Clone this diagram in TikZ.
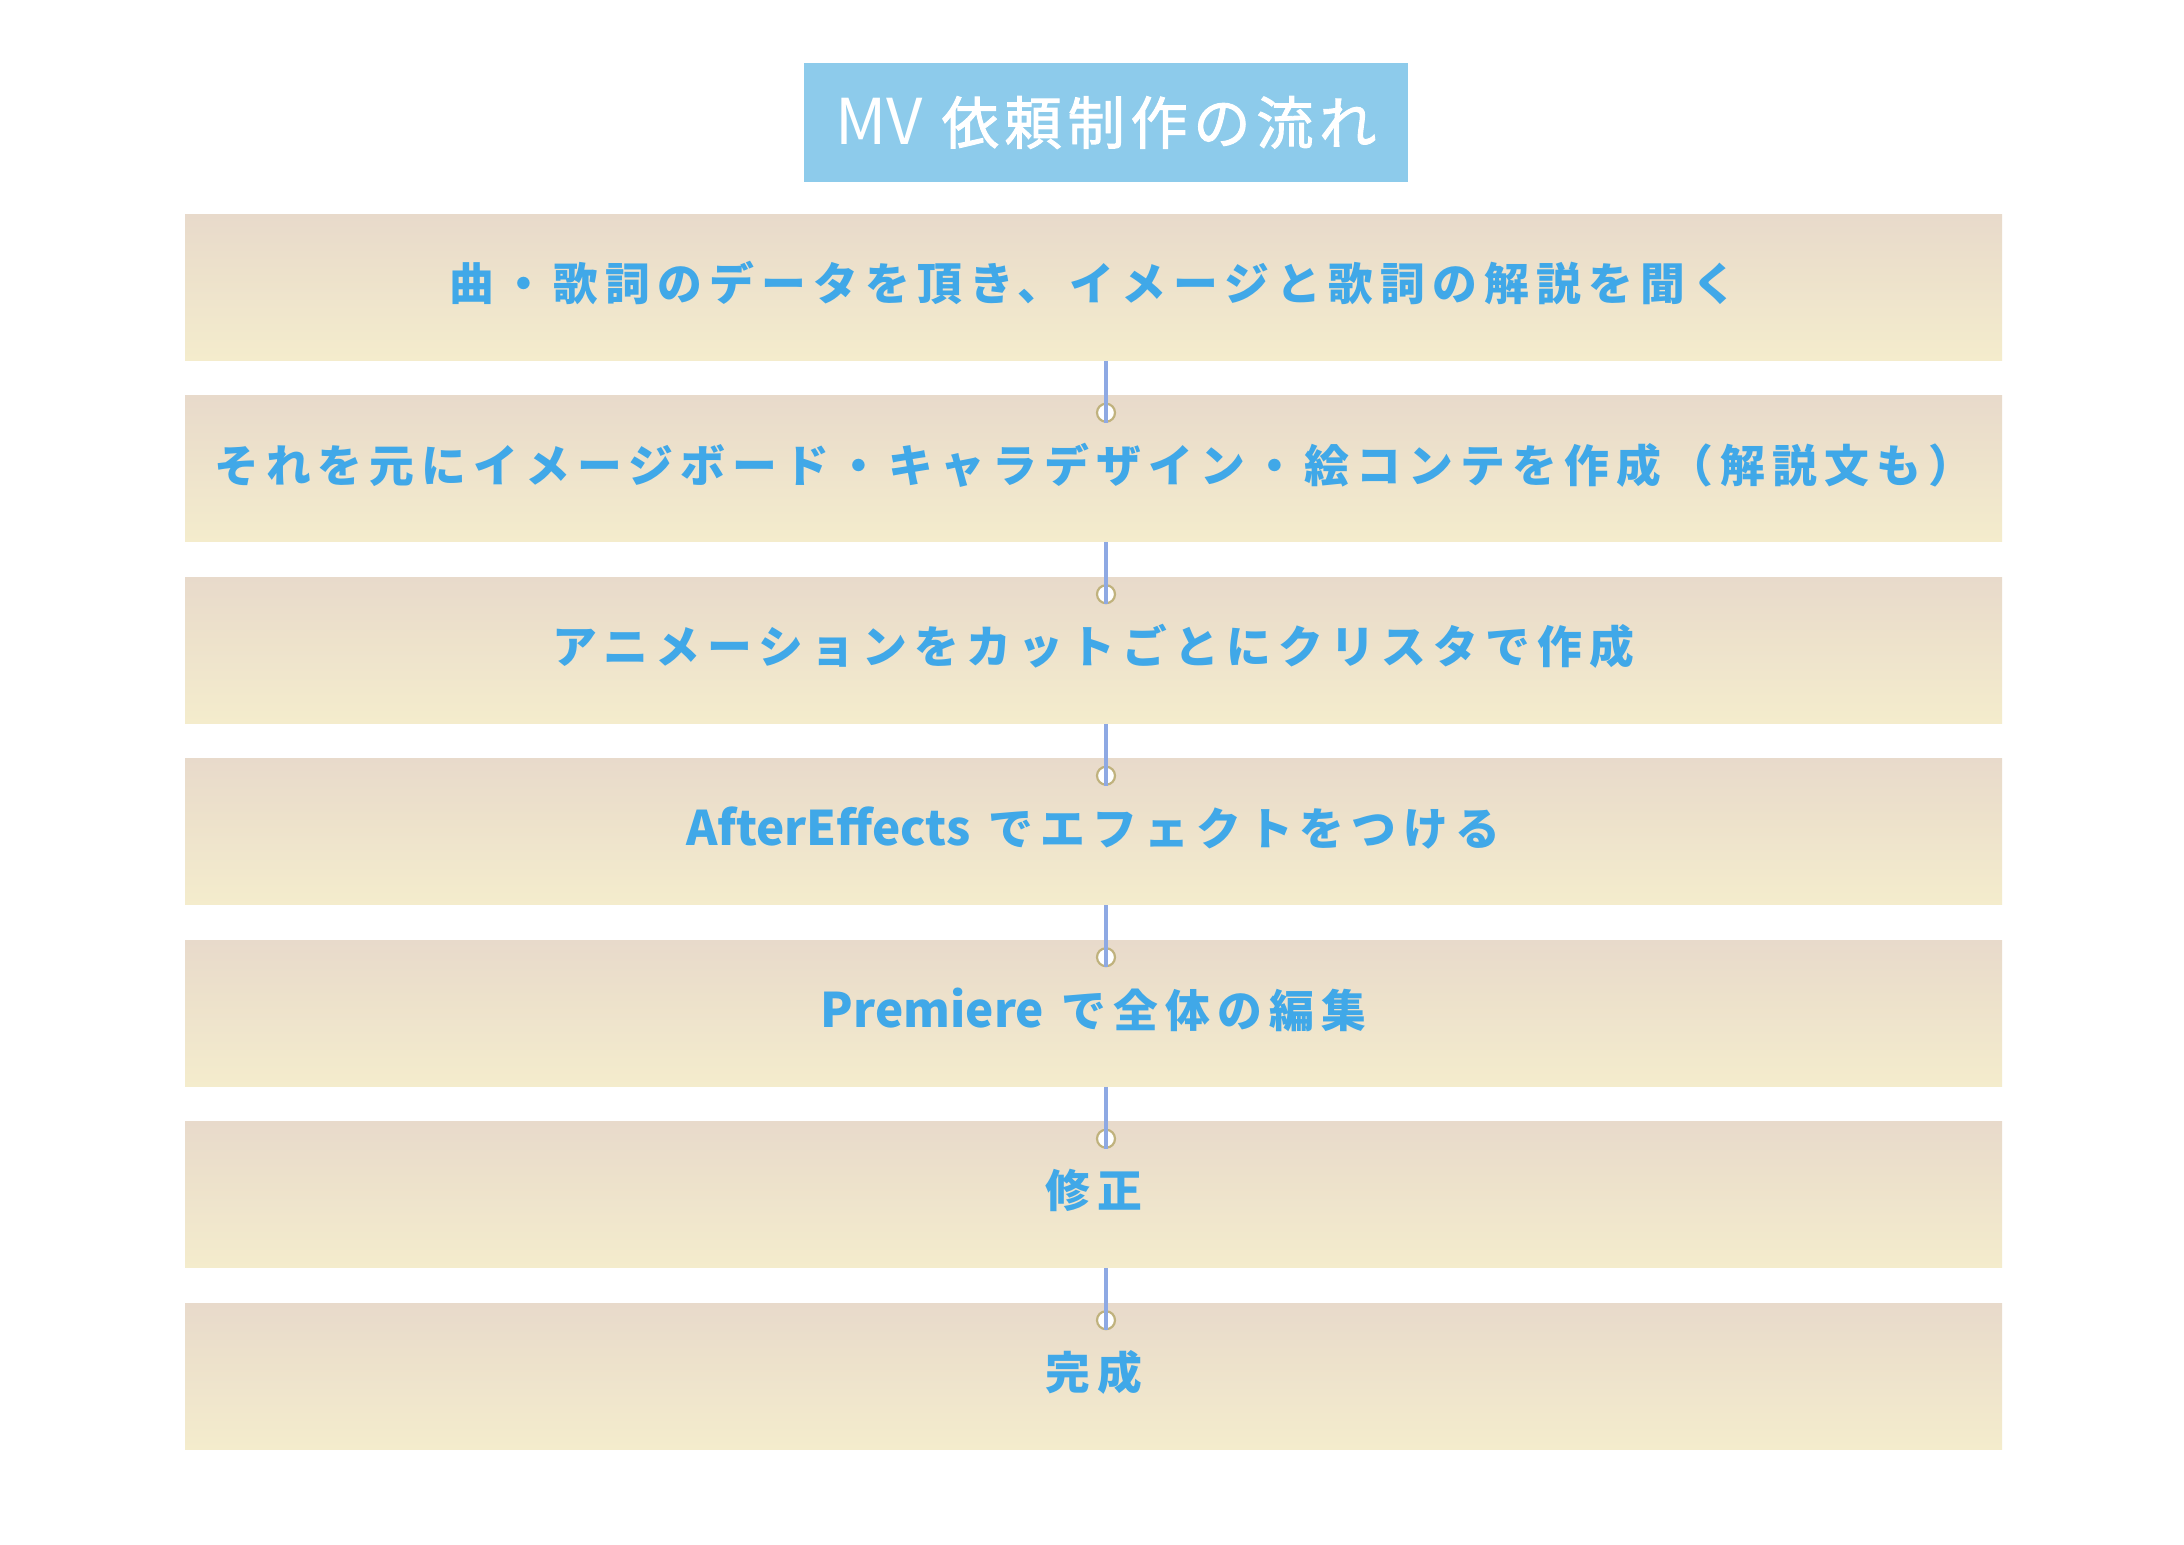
\documentclass[tikz,border=0pt]{standalone}
\usepackage{fontspec}
\setmainfont{Noto Sans CJK JP}
\newfontfamily\jpf{Noto Sans CJK JP}[LetterSpace=16]
\newfontfamily\latf{Noto Sans CJK JP}
\newfontfamily\ttlf{Noto Sans CJK JP}[LetterSpace=10, FakeBold=1.6]
\usetikzlibrary{calc}
\definecolor{bandtop}{RGB}{232,218,203}
\definecolor{bandbot}{RGB}{244,236,204}
\definecolor{txtblue}{RGB}{64,168,232}
\definecolor{ttlfill}{RGB}{141,203,235}
\definecolor{connc}{RGB}{142,169,227}
\definecolor{dotc}{RGB}{192,178,125}
\newcommand\lw[1]{{\latf\bfseries\fontsize{11.9}{14}\selectfont #1}}
\newcommand\bt[1]{\raisebox{0.9pt}[\height][\depth]{#1}}
\begin{document}
\begin{tikzpicture}[x=0.25pt,y=-0.25pt,
  band/.style={rectangle, inner sep=0pt, minimum width=454.25pt, minimum height=36.5pt,
    top color=bandtop, bottom color=bandbot, text=txtblue,
    font=\jpf\bfseries\fontsize{11.2}{13}\selectfont},
  titlebox/.style={rectangle, inner sep=0pt, minimum width=151pt, minimum height=29.75pt,
    fill=ttlfill, text=white, font=\ttlf\fontsize{14.3}{16}\selectfont},
  dot/.style={circle, inner sep=0pt, minimum size=4.5pt, line width=0.55pt, draw=dotc, fill=white},
  conn/.style={line width=0.875pt, draw=connc}]
\useasboundingbox (0,0) rectangle (2184,1544);
\fill[white] (0,0) rectangle (2184,1544);
\node[titlebox] (t) at (1106,122.5) {{\latf\fontsize{15.8}{17}\selectfont MV} 依頼制作の流れ};
\node[band] (b1) at (1093.5,287) {\bt{曲・歌詞のデータを頂き、イメージと歌詞の解説を聞く}};
\node[band] (b2) at (1093.5,468.5) {\bt{それを元にイメージボード・キャラデザイン・絵コンテを作成（解説文も）}};
\node[band] (b3) at (1093.5,650) {\bt{アニメーションをカットごとにクリスタで作成}};
\node[band] (b4) at (1093.5,831.5) {\bt{\lw{AfterEffects} でエフェクトをつける}};
\node[band] (b5) at (1093.5,1013) {\bt{\lw{Premiere} で全体の編集}};
\node[band] (b6) at (1093.5,1194.5) {\bt{修正}};
\node[band] (b7) at (1093.5,1376) {\bt{完成}};
\foreach \i/\j in {1/2,2/3,3/4,4/5,5/6,6/7}{
  \node[dot] (d\j) at ($(b\j.north -| t.south)+(0,18)$) {};
  \draw[conn] (b\i.south -| d\j.center) -- (d\j.south);
}
\end{tikzpicture}
\end{document}
